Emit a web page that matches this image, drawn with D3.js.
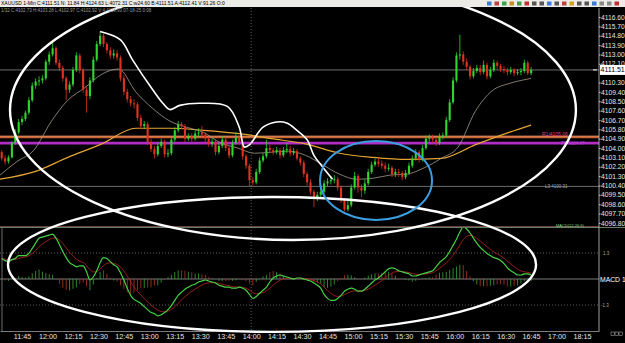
<!DOCTYPE html>
<html>
<head>
<meta charset="utf-8">
<script src="https://cdn.jsdelivr.net/npm/d3@7/dist/d3.min.js"></script>
<style>
  html, body { margin: 0; padding: 0; background: #000; overflow: hidden; }
  svg { display: block; font-family: "Liberation Sans", Arial, sans-serif; }
</style>
</head>
<body>
<div id="chart"></div>
<script>
// XAUUSD, one candle every 2 minutes starting 11:32 (minutes after midnight)
var startTime = 692;
var firstOpen = 4103.6;

var closes = [
  4103.0,4102.7,4103.1,4104.5,4105.5,4106.5,4106.8,4107.4,4108.6,4110.0,
  4110.4,4110.5,4110.7,4112.3,4113.0,4113.6,4112.2,4111.7,4110.7,4109.6,
  4110.1,4111.5,4112.9,4111.5,4109.6,4109.0,4110.5,4112.5,4114.0,4114.8,
  4114.0,4113.4,4112.9,4113.1,4112.7,4110.7,4109.4,4108.7,4108.3,4108.2,
  4106.9,4106.1,4106.3,4104.6,4103.9,4103.4,4104.2,4104.6,4103.4,4103.5,
  4104.8,4105.7,4106.3,4106.1,4104.9,4105.1,4104.9,4105.4,4105.5,4105.3,
  4104.9,4104.4,4104.6,4103.6,4104.2,4104.8,4104.0,4103.3,4104.5,4105.0,
  4104.6,4103.2,4102.3,4100.9,4100.7,4101.7,4102.8,4103.2,4104.0,4103.8,
  4103.6,4103.8,4103.3,4103.8,4103.9,4103.5,4103.7,4103.0,4102.6,4101.5,
  4100.7,4099.8,4099.2,4099.5,4099.8,4100.6,4100.8,4100.9,4101.0,4100.2,
  4099.0,4098.1,4098.5,4100.2,4101.3,4100.2,4099.9,4100.6,4101.7,4102.4,
  4102.7,4102.5,4102.3,4102.0,4102.1,4101.5,4101.7,4101.6,4101.2,4101.6,
  4102.3,4103.0,4103.6,4102.9,4104.0,4104.9,4105.0,4104.8,4104.5,4105.1,
  4105.2,4106.7,4108.4,4110.5,4112.9,4113.0,4112.3,4111.8,4110.9,4111.4,
  4111.7,4111.3,4112.0,4110.9,4111.5,4112.2,4111.9,4111.6,4111.5,4111.3,
  4111.5,4111.2,4111.3,4111.4,4112.2,4111.2,4111.51
];
var highs = [
  4103.8,4103.3,4103.3,4104.7,4105.8,4106.8,4107.1,4107.6,4108.9,4110.3,
  4110.7,4110.9,4111.0,4112.5,4113.3,4114.2,4113.8,4112.5,4111.9,4110.9,
  4110.4,4111.8,4113.2,4113.1,4111.7,4109.9,4110.8,4112.8,4114.3,4115.2,
  4115.0,4114.2,4113.7,4113.5,4113.4,4112.9,4111.0,4109.7,4109.0,4108.7,
  4108.4,4107.2,4106.6,4106.5,4104.9,4104.2,4104.5,4104.9,4104.8,4103.9,
  4105.0,4106.0,4106.6,4106.5,4106.3,4105.4,4105.4,4105.7,4105.9,4106.1,
  4105.5,4105.1,4104.9,4104.8,4104.5,4105.1,4105.0,4104.2,4104.8,4105.5,
  4105.2,4104.8,4103.4,4102.5,4101.2,4102.0,4103.1,4103.5,4104.8,4104.3,
  4104.0,4104.1,4104.0,4104.1,4104.5,4104.2,4104.0,4103.9,4103.2,4102.8,
  4101.7,4101.0,4100.0,4099.8,4100.1,4100.9,4101.1,4101.3,4101.4,4101.2,
  4100.4,4099.2,4098.9,4100.5,4101.7,4101.5,4100.5,4101.0,4102.0,4102.7,
  4103.0,4103.1,4102.8,4102.6,4102.5,4102.3,4102.0,4102.0,4101.8,4101.9,
  4102.6,4103.3,4103.9,4103.8,4104.3,4105.2,4105.3,4105.3,4105.0,4105.4,
  4105.5,4107.0,4108.7,4110.8,4113.2,4114.9,4113.3,4112.6,4112.0,4111.7,
  4112.0,4112.0,4112.4,4112.2,4111.8,4112.5,4112.4,4112.1,4111.9,4111.7,
  4111.8,4111.7,4111.6,4111.7,4112.5,4112.4,4111.8
];
var lows = [
  4102.8,4102.4,4102.5,4103.0,4104.3,4105.3,4106.2,4106.6,4107.2,4108.4,
  4109.7,4110.0,4110.2,4110.5,4112.0,4112.8,4112.0,4111.4,4110.4,4108.6,
  4109.3,4109.9,4111.3,4111.2,4109.3,4107.4,4108.7,4110.3,4112.3,4113.8,
  4113.7,4113.1,4112.6,4112.6,4112.4,4110.4,4109.1,4108.4,4108.0,4107.8,
  4106.6,4105.8,4105.8,4104.3,4103.6,4103.0,4103.2,4104.0,4103.1,4103.1,
  4103.3,4104.6,4105.5,4105.8,4104.6,4104.7,4104.6,4104.7,4105.1,4105.0,
  4104.6,4104.1,4104.1,4103.3,4103.4,4104.0,4103.7,4103.0,4103.1,4104.3,
  4104.3,4102.9,4102.0,4100.3,4100.4,4100.5,4101.5,4102.6,4103.0,4103.5,
  4103.3,4103.4,4103.0,4103.1,4103.5,4103.2,4103.3,4102.8,4102.3,4101.2,
  4100.4,4099.5,4098.3,4098.9,4099.3,4099.6,4100.3,4100.5,4100.6,4099.9,
  4098.7,4097.9,4097.9,4098.3,4100.0,4099.7,4099.3,4099.6,4100.4,4101.5,
  4102.2,4102.2,4102.0,4101.7,4101.8,4101.2,4101.2,4101.2,4100.9,4101.0,
  4101.4,4102.1,4102.8,4102.6,4102.7,4103.8,4104.6,4104.5,4104.2,4104.3,
  4104.8,4105.0,4106.5,4108.2,4110.3,4112.5,4112.0,4111.5,4110.6,4110.7,
  4111.2,4111.0,4111.1,4110.6,4110.7,4111.3,4111.6,4111.3,4111.2,4111.0,
  4111.1,4110.9,4111.0,4111.0,4111.2,4111.0,4111.0
];

// MACD main line, one value per candle
var macdValues = [
  1.02,0.92,0.87,0.97,1.02,1.17,1.17,1.17,1.28,1.53,
  1.79,2.04,2.09,2.14,2.19,2.24,2.04,1.73,1.38,1.07,
  0.82,0.71,0.61,0.66,0.66,0.36,-0.05,0.10,0.41,0.82,
  1.07,1.02,0.87,0.71,0.61,0.31,-0.05,-0.46,-0.82,-1.02,
  -1.12,-1.22,-1.38,-1.53,-1.68,-1.73,-1.84,-1.79,-1.68,-1.53,
  -1.33,-1.07,-0.82,-0.66,-0.51,-0.41,-0.31,-0.26,-0.15,-0.10,
  -0.05,-0.10,-0.15,-0.20,-0.31,-0.36,-0.41,-0.41,-0.46,-0.46,
  -0.41,-0.46,-0.56,-0.77,-0.97,-0.87,-0.71,-0.56,-0.41,-0.15,
  0.05,0.15,0.20,0.15,0.10,0.05,0.00,0.05,0.05,0.00,
  -0.05,-0.10,-0.20,-0.31,-0.46,-0.77,-0.97,-1.07,-1.07,-0.97,
  -0.82,-0.61,-0.51,-0.46,-0.51,-0.61,-0.61,-0.51,-0.36,-0.20,
  -0.05,0.05,0.20,0.36,0.51,0.56,0.51,0.41,0.36,0.31,
  0.26,0.15,0.15,0.20,0.26,0.31,0.36,0.41,0.61,0.82,
  0.97,1.12,1.38,1.68,1.99,2.35,2.60,2.50,2.30,2.04,
  1.79,1.58,1.43,1.28,1.17,1.07,1.02,0.92,0.77,0.56,
  0.41,0.31,0.20,0.20,0.26,0.26,0.20
];

// moving averages
var fastMaTimes = [692,702,712,722,732,742,752,762,772,782,792,802,812,822,832,842,852,862,872,882,892,902,912,922,932,942,952,962,972,982,992,1002,1005];
var fastMaValues = [4101.4,4102.7,4103.8,4106.5,4108.6,4109.8,4111.1,4111.6,4109.4,4107.8,4106.6,4106.0,4105.5,4104.5,4104.0,4103.5,4103.6,4103.7,4103.3,4102.4,4101.5,4101.0,4101.1,4101.4,4101.5,4102.1,4103.0,4104.1,4107.5,4109.5,4110.2,4110.6,4110.7];
var slowMaTimes = [692,712,732,752,772,792,812,832,852,872,892,912,932,952,972,992,1005];
var slowMaValues = [4101.0,4101.7,4103.1,4104.4,4105.9,4105.9,4105.7,4105.4,4104.9,4104.4,4103.5,4103.1,4102.9,4103.0,4104.3,4105.5,4106.2];

// hand drawn white trend line
var markTimes = [751,763,770,782,788,792,798,810,826,833,836,839,847,855,861,867,873,877,882,888];
var markValues = [4115.2,4114.4,4112.5,4109.6,4108.3,4107.7,4108.1,4108.3,4108.0,4106.0,4104.1,4104.3,4106.0,4106.5,4106.4,4105.7,4104.8,4103.3,4102.2,4101.0];

// 4111.20 sits under the last-price box, so it is not listed
var priceTicks = [4116.6,4115.7,4114.8,4113.9,4113.0,4112.1,4110.3,4109.4,4108.5,4107.6,4106.7,4105.8,4104.9,4104.0,4103.1,4102.2,4101.3,4100.4,4099.5,4098.6,4097.7,4096.8];
var timeTicks = [705,720,735,750,765,780,795,810,825,840,855,870,885,900,915,930,945,960,975,990,1005,1020,1035];
var timeLabels = ["11:45","12:00","12:15","12:30","12:45","13:00","13:15","13:30","13:45","14:00","14:15","14:30","14:45","15:00","15:15","15:30","15:45","16:00","16:15","16:30","16:45","17:00","18:15"];

var lastPrice = 4111.51;
var r1Level = 4105.06;
var ppLevel = 4104.47;
var l3Level = 4100.31;
var macdLevels = [1.3, -1.3];

var W = 625, H = 343;
var upColor = "#2fd62f", downColor = "#e0321e";

var svg = d3.select("#chart").append("svg").attr("width", W).attr("height", H);
svg.append("rect").attr("width", W).attr("height", H).attr("fill", "#000");

var x = d3.scaleLinear().domain([692, 1045]).range([0, 599]);
var y = d3.scaleLinear().domain([4096.8, 4116.6]).range([222.9, 17]);
var ym = d3.scaleLinear().domain([-1.3, 1.3]).range([305, 253]);

var defs = svg.append("defs");
defs.append("clipPath").attr("id", "priceClip").append("rect").attr("x", 0).attr("y", 8).attr("width", 599).attr("height", 218);
defs.append("clipPath").attr("id", "macdClip").append("rect").attr("x", 0).attr("y", 228).attr("width", 599).attr("height", 103);

var candles = closes.map(function (c, i) {
  return { t: startTime + 1 + 2 * i, o: i ? closes[i - 1] : firstOpen, h: highs[i], l: lows[i], c: c };
});

// ---- price panel
var pricePanel = svg.append("g").attr("clip-path", "url(#priceClip)");

// day separator
svg.append("line").attr("x1", x(840)).attr("x2", x(840)).attr("y1", 8).attr("y2", 331)
  .attr("stroke", "#777").attr("stroke-dasharray", "1,2").attr("stroke-width", 0.8);

pricePanel.append("line").attr("x1", 0).attr("x2", 599).attr("y1", y(lastPrice)).attr("y2", y(lastPrice))
  .attr("stroke", "#8a8a8a").attr("stroke-width", 0.8);
pricePanel.append("line").attr("x1", 0).attr("x2", 599).attr("y1", y(l3Level)).attr("y2", y(l3Level))
  .attr("stroke", "#8a8a8a").attr("stroke-width", 0.8);
pricePanel.append("line").attr("x1", 0).attr("x2", 599).attr("y1", y(r1Level)).attr("y2", y(r1Level))
  .attr("stroke", "#c8642d").attr("stroke-width", 2.6);
pricePanel.append("line").attr("x1", 0).attr("x2", 599).attr("y1", y(r1Level) - 0.8).attr("y2", y(r1Level) - 0.8)
  .attr("stroke", "#e89a8a").attr("stroke-width", 0.6);
pricePanel.append("line").attr("x1", 0).attr("x2", 599).attr("y1", y(ppLevel)).attr("y2", y(ppLevel))
  .attr("stroke", "#b02ec4").attr("stroke-width", 2.6);

var maLine = d3.line().curve(d3.curveMonotoneX);
pricePanel.append("path")
  .attr("d", maLine(slowMaTimes.map(function (t, i) { return [x(t), y(slowMaValues[i])]; })))
  .attr("fill", "none").attr("stroke", "#e4a533").attr("stroke-width", 1.2);
pricePanel.append("path")
  .attr("d", maLine(fastMaTimes.map(function (t, i) { return [x(t), y(fastMaValues[i])]; })))
  .attr("fill", "none").attr("stroke", "#a39a8c").attr("stroke-width", 0.8);

var bodyW = 2.1;
var cg = pricePanel.append("g");
cg.selectAll("line.wick").data(candles).enter().append("line")
  .attr("x1", function (d) { return x(d.t); }).attr("x2", function (d) { return x(d.t); })
  .attr("y1", function (d) { return y(d.h); }).attr("y2", function (d) { return y(d.l); })
  .attr("stroke", function (d) { return d.c >= d.o ? upColor : downColor; }).attr("stroke-width", 0.8);
cg.selectAll("rect.body").data(candles).enter().append("rect")
  .attr("x", function (d) { return x(d.t) - bodyW / 2; })
  .attr("y", function (d) { return y(Math.max(d.o, d.c)); })
  .attr("width", bodyW)
  .attr("height", function (d) { return Math.max(0.8, Math.abs(y(d.o) - y(d.c))); })
  .attr("fill", function (d) { return d.c >= d.o ? upColor : downColor; });

pricePanel.append("path")
  .attr("d", d3.line().curve(d3.curveCatmullRom)(markTimes.map(function (t, i) { return [x(t), y(markValues[i])]; })))
  .attr("fill", "none").attr("stroke", "#fff").attr("stroke-width", 1.6);

// level labels
svg.append("text").attr("x", 542).attr("y", y(r1Level) - 1).attr("fill", "#e0407a").attr("font-size", 5).text("R1/4105.06");
svg.append("text").attr("x", 561).attr("y", y(ppLevel) + 1.5).attr("fill", "#b040d0").attr("font-size", 4.5).text("PP 4104.47");
svg.append("text").attr("x", 545).attr("y", y(l3Level) + 1.5).attr("fill", "#a0a0a0").attr("font-size", 4.5).text("L3 4100.31");

// ---- MACD panel
var signal = [];
macdValues.forEach(function (v, i) { signal.push(i ? signal[i - 1] + 0.3 * (v - signal[i - 1]) : v); });

var macdPanel = svg.append("g").attr("clip-path", "url(#macdClip)");
macdPanel.append("line").attr("x1", 0).attr("x2", 599).attr("y1", ym(0)).attr("y2", ym(0)).attr("stroke", "#9a9a9a").attr("stroke-width", 0.8);
macdLevels.forEach(function (v) {
  macdPanel.append("line").attr("x1", 0).attr("x2", 599).attr("y1", ym(v)).attr("y2", ym(v))
    .attr("stroke", "#777").attr("stroke-dasharray", "1,2").attr("stroke-width", 0.8);
});
macdPanel.selectAll("line.hist").data(macdValues).enter().append("line")
  .attr("x1", function (d, i) { return x(candles[i].t); }).attr("x2", function (d, i) { return x(candles[i].t); })
  .attr("y1", ym(0))
  .attr("y2", function (d, i) { return ym((d - signal[i]) * 1.1); })
  .attr("stroke", function (d, i) { return candles[i].c >= candles[i].o ? "#36a836" : "#b0382a"; })
  .attr("stroke-width", 0.8);
macdPanel.append("path")
  .attr("d", d3.line().curve(d3.curveMonotoneX)(signal.map(function (v, i) { return [x(candles[i].t), ym(v)]; })))
  .attr("fill", "none").attr("stroke", "#a82020").attr("stroke-width", 0.9);
macdPanel.append("path")
  .attr("d", d3.line().curve(d3.curveMonotoneX)(macdValues.map(function (v, i) { return [x(candles[i].t), ym(v)]; })))
  .attr("fill", "none").attr("stroke", "#45d045").attr("stroke-width", 1.2);

// panel frame
svg.append("line").attr("x1", 0).attr("x2", 599).attr("y1", 226.5).attr("y2", 226.5).attr("stroke", "#b07070").attr("stroke-width", 0.6);
svg.append("line").attr("x1", 0).attr("x2", 625).attr("y1", 227.5).attr("y2", 227.5).attr("stroke", "#7fa07f").attr("stroke-width", 0.8);
svg.append("line").attr("x1", 2).attr("x2", 2).attr("y1", 228).attr("y2", 331).attr("stroke", "#888").attr("stroke-width", 0.8);
svg.append("text").attr("x", 556).attr("y", 226.5).attr("fill", "#7fd07f").attr("font-size", 4).text("MACD(12,26,9)");

// ---- axes
var priceAxis = svg.append("g").attr("transform", "translate(599,0)")
  .call(d3.axisRight(y).tickValues(priceTicks).tickFormat(d3.format(".2f")).tickSize(1.5).tickPadding(0.5));
priceAxis.select(".domain").remove();
priceAxis.selectAll("line").attr("stroke", "#ccc");
priceAxis.selectAll("text").attr("fill", "#e6e6e6").attr("font-size", 6.7).attr("font-family", "Liberation Sans, Arial, sans-serif");
svg.append("line").attr("x1", 599).attr("x2", 599).attr("y1", 8).attr("y2", 331).attr("stroke", "#c8c8c8").attr("stroke-width", 0.8);

var timeAxis = svg.append("g").attr("transform", "translate(0,331)")
  .call(d3.axisBottom(x).tickValues(timeTicks).tickFormat(function (d, i) { return timeLabels[i]; }).tickSize(0).tickPadding(2.5));
timeAxis.select(".domain").attr("stroke", "#9a9a9a").attr("stroke-width", 0.8);
timeAxis.selectAll("text").attr("fill", "#e6e6e6").attr("font-size", 7.2).attr("font-family", "Liberation Sans, Arial, sans-serif");

// current price box
svg.append("line").attr("x1", 593).attr("x2", 597).attr("y1", y(lastPrice)).attr("y2", y(lastPrice)).attr("stroke", "#fff");
svg.append("rect").attr("x", 600).attr("y", y(lastPrice) - 5).attr("width", 25).attr("height", 10).attr("fill", "#fff");
svg.append("text").attr("x", 600.5).attr("y", y(lastPrice) + 2.5).attr("fill", "#000").attr("font-size", 7).text(d3.format(".2f")(lastPrice));

// MACD labels
macdLevels.forEach(function (v) {
  svg.append("text").attr("x", v > 0 ? 603 : 601).attr("y", ym(v) + 1.5).attr("fill", "#aaa").attr("font-size", 4.5).text(v > 0 ? "1.3" : "-1.3");
});
svg.append("text").attr("x", 600).attr("y", ym(0) + 3).attr("fill", "#fff").attr("font-size", 6.8).text("MACD 1");

// bottom-right boxes
[611, 615, 619].forEach(function (bx) {
  svg.append("rect").attr("x", bx).attr("y", 332).attr("width", 3.4).attr("height", 3.4).attr("fill", "none").attr("stroke", "#bbb").attr("stroke-width", 0.5);
});

// ---- annotations (ellipses)
function ellipse(t0, t1, top, bottom, sy, color, sw) {
  svg.append("ellipse")
    .attr("cx", (x(t0) + x(t1)) / 2).attr("cy", (sy(top) + sy(bottom)) / 2)
    .attr("rx", (x(t1) - x(t0)) / 2).attr("ry", Math.abs(sy(bottom) - sy(top)) / 2)
    .attr("fill", "none").attr("stroke", color).attr("stroke-width", sw);
}
ellipse(697.9, 1031.4, 4120.16, 4095.16, y, "#fff", 2.4);
ellipse(696.7, 1007.9, 4.18, -2.70, function (v) { return 279 - v * 19.6; }, "#fff", 2.4);
ellipse(880.6, 946.6, 4104.68, 4097.08, y, "#3a9ee0", 2);

// ---- header bar
svg.append("rect").attr("x", 0).attr("y", 0).attr("width", W).attr("height", 7).attr("fill", "#ecebe6");
svg.append("text").attr("x", 1).attr("y", 5.3).attr("fill", "#000").attr("font-size", 5)
  .text("XAUUSD 1-Min C:4111.51 N: 11.84 H:4124.63 L:4072.31 C:w24.60 B:4111.51 A:4112.41 V:91.26 O:0");
svg.append("text").attr("x", 1).attr("y", 12).attr("fill", "#9a9a9a").attr("font-size", 4.5)
  .text("1/32 C:4102.73 H:4103.28 L:4102.97 C:4102.92 V:4 4116.93 07-18-25 0:08");
var iconColors = ["#3a7bd5", "#c04040", "#3aa040", "#d08a20", "#3aa040", "#c03030", "#555", "#555", "#3a7bd5", "#555", "#c04040", "#d0a020", "#555", "#555", "#3a7bd5", "#888", "#888", "#c03030"];
iconColors.forEach(function (c, i) {
  svg.append("rect").attr("x", 487 + i * 7.5).attr("y", 1.5).attr("width", 4.5).attr("height", 4).attr("fill", c);
});
</script>
</body>
</html>
